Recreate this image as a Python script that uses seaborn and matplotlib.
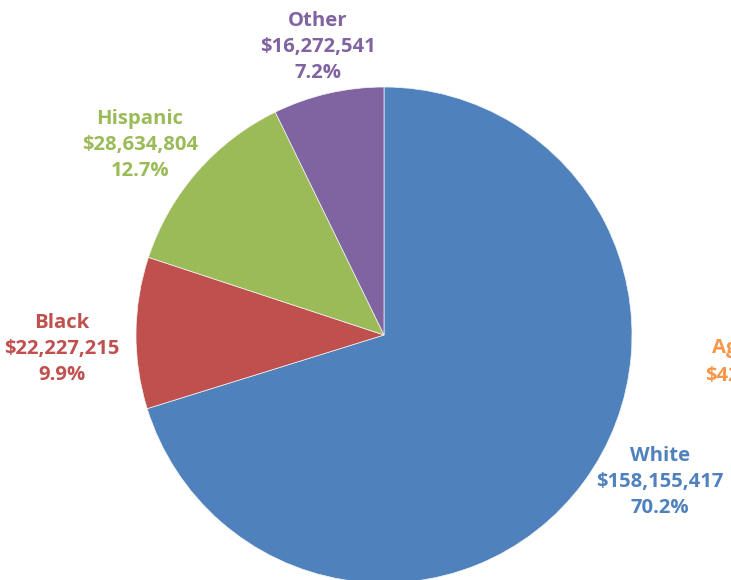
import matplotlib
matplotlib.use("Agg")
import matplotlib.pyplot as plt
import seaborn as sns

# data
groups = ["White", "Black", "Hispanic", "Other"]
amounts = [158155417, 22227215, 28634804, 16272541]
colors = ["#4F81BD", "#C0504D", "#9BBB59", "#8064A2"]
label_colors = ["#4F81BD", "#C0504D", "#9BBB59", "#8064A2"]

# extra label cut off at the right edge of the reference
extra_label = "Ag"
extra_amount = "$42"
extra_color = "#F79646"

sns.set_theme(style="white")
plt.rcParams["font.family"] = ["Open Sans", "DejaVu Sans"]

W, H = 731, 580
fig = plt.figure(figsize=(W / 100, H / 100), dpi=100)
ax = fig.add_axes([0, 0, 1, 1])

cx, cy, r = 384, H - 335, 248
ax.pie(amounts, colors=sns.color_palette(colors), startangle=90, counterclock=False,
       center=(cx, cy), radius=r, frame=True,
       wedgeprops=dict(edgecolor="#f4f4f4", linewidth=0.5))
ax.set_xlim(0, W)
ax.set_ylim(0, H)
ax.axis("off")

total = sum(amounts)
fs = 14.6
# label centres (pixels from top-left)
label_pos = [(660, 482), (62, 349), (140, 145), (318, 47)]
for g, v, c, (x, y) in zip(groups, amounts, label_colors, label_pos):
    txt = f"{g}\n${v:,}\n{v / total * 100:.1f}%"
    ax.text(x, H - y, txt, ha="center", va="center", color=c, fontsize=fs,
            fontweight="bold", linespacing=1.38)

ax.text(712, H - 348, extra_label, ha="left", va="center", color=extra_color,
        fontsize=fs, fontweight="bold")
ax.text(705, H - 376, extra_amount, ha="left", va="center", color=extra_color,
        fontsize=fs, fontweight="bold")

fig.savefig("out.png", dpi=100)
